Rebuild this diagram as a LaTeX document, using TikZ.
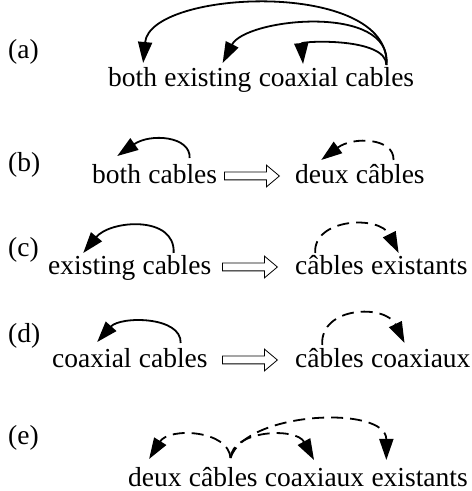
\documentclass[tikz,border=0pt]{standalone}
\usepackage{fontspec}
\setmainfont{Liberation Serif}
\usetikzlibrary{positioning,arrows.meta,shapes.arrows}

\begin{document}
\begin{tikzpicture}[
    x=1pt,y=1pt,
    node distance=6.9pt,
    word/.style={inner sep=0pt,font=\fontsize{27.5}{33}\selectfont},
    tag/.style={word,anchor=base west},
    link/.style={line width=1.8pt,-{Triangle[length=21pt,width=14pt]}},
    trans/.style={link,dash pattern=on 12pt off 7pt},
    implies/.style={draw,single arrow,single arrow head extend=7pt,single arrow tip angle=80,minimum height=55pt,inner xsep=0pt,inner ysep=3.5pt,line width=0.8pt,anchor=west}
  ]
  \useasboundingbox (0,0) rectangle (472,491);
  % (a)
  \node[tag] (la) at (8,432) {(a)};
  \node[tag] (a1) at (108,404) {both};
  \node[word,base right=of a1] (a2) {existing};
  \node[word,base right=of a2] (a3) {coaxial};
  \node[word,base right=of a3] (a4) {cables};
  \draw[link] ([shift={(6.6,22)}]a4.base) .. controls +(5,86) and +(7,74) .. ([shift={(10.5,24)}]a1.base);
  \draw[link] ([shift={(6.6,22)}]a4.base) .. controls +(7,62) and +(23,45) .. ([shift={(14.7,24)}]a2.base);
  \draw[link] ([shift={(6.6,22)}]a4.base) .. controls +(0,28) and +(-2,23) .. ([shift={(4.6,23)}]a3.base);
  % (b)
  \node[tag] (lb) at (8,319) {(b)};
  \node[tag] (b1) at (92,307) {both};
  \node[word,base right=of b1] (b2) {cables};
  \node[implies] (ib) at (224,315) {};
  \node[tag] (b3) at (295,307) {deux};
  \node[word,base right=of b3] (b4) {câbles};
  \draw[link] ([shift={(6.9,26)}]b2.base) .. controls +(1,22) and +(33,23) .. ([shift={(0.6,28)}]b1.base);
  \draw[trans] ([shift={(3.2,24)}]b4.base) .. controls +(1,22) and +(32,24) .. ([shift={(-0.7,24)}]b3.base);
  % (c)
  \node[tag] (lc) at (8,234) {(c)};
  \node[tag] (c1) at (48,216) {existing};
  \node[word,base right=of c1] (c2) {cables};
  \node[implies] (ic) at (222,224) {};
  \node[tag] (c3) at (295,216) {câbles};
  \node[word,base right=of c3] (c4) {existants};
  \draw[link] ([shift={(-3.3,22)}]c2.base) .. controls +(2,38) and +(27,33) .. ([shift={(-8.5,22)}]c1.base);
  \draw[trans] ([shift={(-14.4,22)}]c3.base) .. controls +(-2,35) and +(-19,38) .. ([shift={(-20.7,22)}]c4.base);
  % (d)
  \node[tag] (ld) at (8,148) {(d)};
  \node[tag] (d1) at (52,123) {coaxial};
  \node[word,base right=of d1] (d2) {cables};
  \node[implies] (id) at (222,131) {};
  \node[tag] (d3) at (295,123) {câbles};
  \node[word,base right=of d3] (d4) {coaxiaux};
  \draw[link] ([shift={(7.4,25)}]d2.base) .. controls +(1,27) and +(23,26) .. ([shift={(5.3,26)}]d1.base);
  \draw[trans] ([shift={(-7.4,23)}]d3.base) .. controls +(-2,39) and +(-19,39) .. ([shift={(-16.3,25)}]d4.base);
  % (e)
  \node[tag] (le) at (8,46) {(e)};
  \node[tag] (e1) at (128,5) {deux};
  \node[word,base right=of e1] (e2) {câbles};
  \node[word,base right=of e2] (e3) {coaxiaux};
  \node[word,base right=of e3] (e4) {existants};
  \draw[trans] ([shift={(7.2,28)}]e2.base) .. controls +(-2,28) and +(20,32) .. ([shift={(-5.8,27)}]e1.base);
  \draw[trans] ([shift={(7.2,28)}]e2.base) .. controls +(2,28) and +(-18,33) .. ([shift={(-0.6,26)}]e3.base);
  \draw[trans] ([shift={(7.2,28)}]e2.base) .. controls +(15,47) and +(0,55) .. ([shift={(-33.3,26)}]e4.base);
\end{tikzpicture}
\end{document}
